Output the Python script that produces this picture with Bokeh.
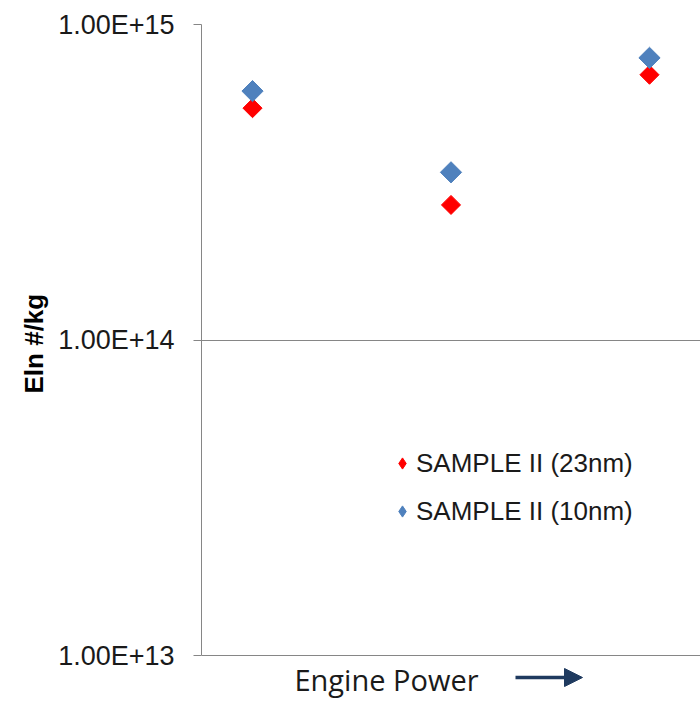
from bokeh.plotting import figure
from bokeh.models import (Range1d, FixedTicker, CustomJSTickFormatter, Legend, LegendItem,
                          Label, Arrow, NormalHead, Title)
from bokeh.embed import file_html
from bokeh.resources import INLINE
import math

# ---- data ----
power_levels = [1, 2, 3]
sample_23nm = [5.43e14, 2.68e14, 6.93e14]
sample_10nm = [6.15e14, 3.40e14, 7.84e14]
y_ticks = [1e13, 1e14, 1e15]
series_names = ["SAMPLE II (23nm)", "SAMPLE II (10nm)"]
x_title = "Engine Power"
y_title = "Eln #/kg"

# frame extends below the 1E13 line so the x title/arrow can sit inside it
frame_top, frame_bottom, line_13 = 24, 709, 655
decade_px = (line_13 - frame_top) / 2.0
y_lo = 10 ** (13 - (frame_bottom - line_13) / decade_px)

p = figure(width=700, height=709, y_axis_type="log",
           x_range=Range1d(0.743, 3.257), y_range=Range1d(y_lo, 1e15),
           output_backend="svg", toolbar_location=None,
           min_border_left=201, min_border_right=0, min_border_top=frame_top,
           min_border_bottom=0)
p.outline_line_color = None
p.background_fill_color = "white"
p.border_fill_color = "white"

# axes
p.xaxis.visible = False
p.xgrid.visible = False
ya = p.yaxis[0]
ya.bounds = (1e13, 1e15)
ya.ticker = FixedTicker(ticks=y_ticks)
ya.formatter = CustomJSTickFormatter(code="return tick.toExponential(2).toUpperCase();")
ya.axis_line_color = "#868686"
ya.axis_line_width = 1
ya.major_tick_line_color = "#868686"
ya.major_tick_out = 8
ya.major_tick_in = 0
ya.minor_tick_line_color = None
ya.major_label_text_font = "Liberation Sans"
ya.major_label_text_font_size = "27px"
ya.major_label_text_color = "#1a1a1a"
ya.major_label_standoff = 19
p.ygrid.ticker = FixedTicker(ticks=y_ticks)
p.ygrid.grid_line_color = "#868686"
p.ygrid.grid_line_width = 1

# y title (rotated, placed in the left panel)
p.add_layout(Title(text=y_title, align="left", vertical_align="top",
                   offset=frame_bottom - 393,
                   text_font="Liberation Sans", text_font_style="bold",
                   text_font_size="26px", text_color="black", standoff=10), "left")

# data markers
r1 = p.scatter(power_levels, sample_23nm, marker="square", size=13.5, angle=math.pi / 4,
               fill_color="#FF0000", line_color="#FF0000")
r2 = p.scatter(power_levels, sample_10nm, marker="square", size=15, angle=math.pi / 4,
               fill_color="#4F81BD", line_color="#4F81BD")

# legend proxies (diamond shaped, not drawn in the plot)
l1 = p.scatter([math.nan], [math.nan], marker="diamond", fill_color="#FF0000", line_color="#FF0000")
l2 = p.scatter([math.nan], [math.nan], marker="diamond", fill_color="#4F81BD", line_color="#4F81BD")

legend = Legend(items=[LegendItem(label=series_names[0], renderers=[l1]),
                       LegendItem(label=series_names[1], renderers=[l2])],
                location=(187, 182), orientation="vertical",
                glyph_width=28, glyph_height=32, label_height=30, label_width=10,
                spacing=16, padding=0, margin=0, label_standoff=0,
                border_line_color=None, background_fill_alpha=0,
                label_text_font="Liberation Sans", label_text_font_size="26px",
                label_text_color="#1a1a1a")
p.add_layout(legend, "center")

p.add_layout(Label(x=185, y=30, x_units="screen", y_units="screen", text=x_title,
                   text_align="center", text_baseline="middle",
                   text_font="Open Sans", text_font_size="29px", text_color="#1a1a1a"))
p.add_layout(Arrow(x_start=314, y_start=32, x_end=381, y_end=32,
                   start_units="screen", end_units="screen",
                   line_color="#1F3A5F", line_width=3.5,
                   end=NormalHead(size=18, fill_color="#1F3A5F", line_color="#1F3A5F")))

open("out.html", "w").write(file_html(p, INLINE))
